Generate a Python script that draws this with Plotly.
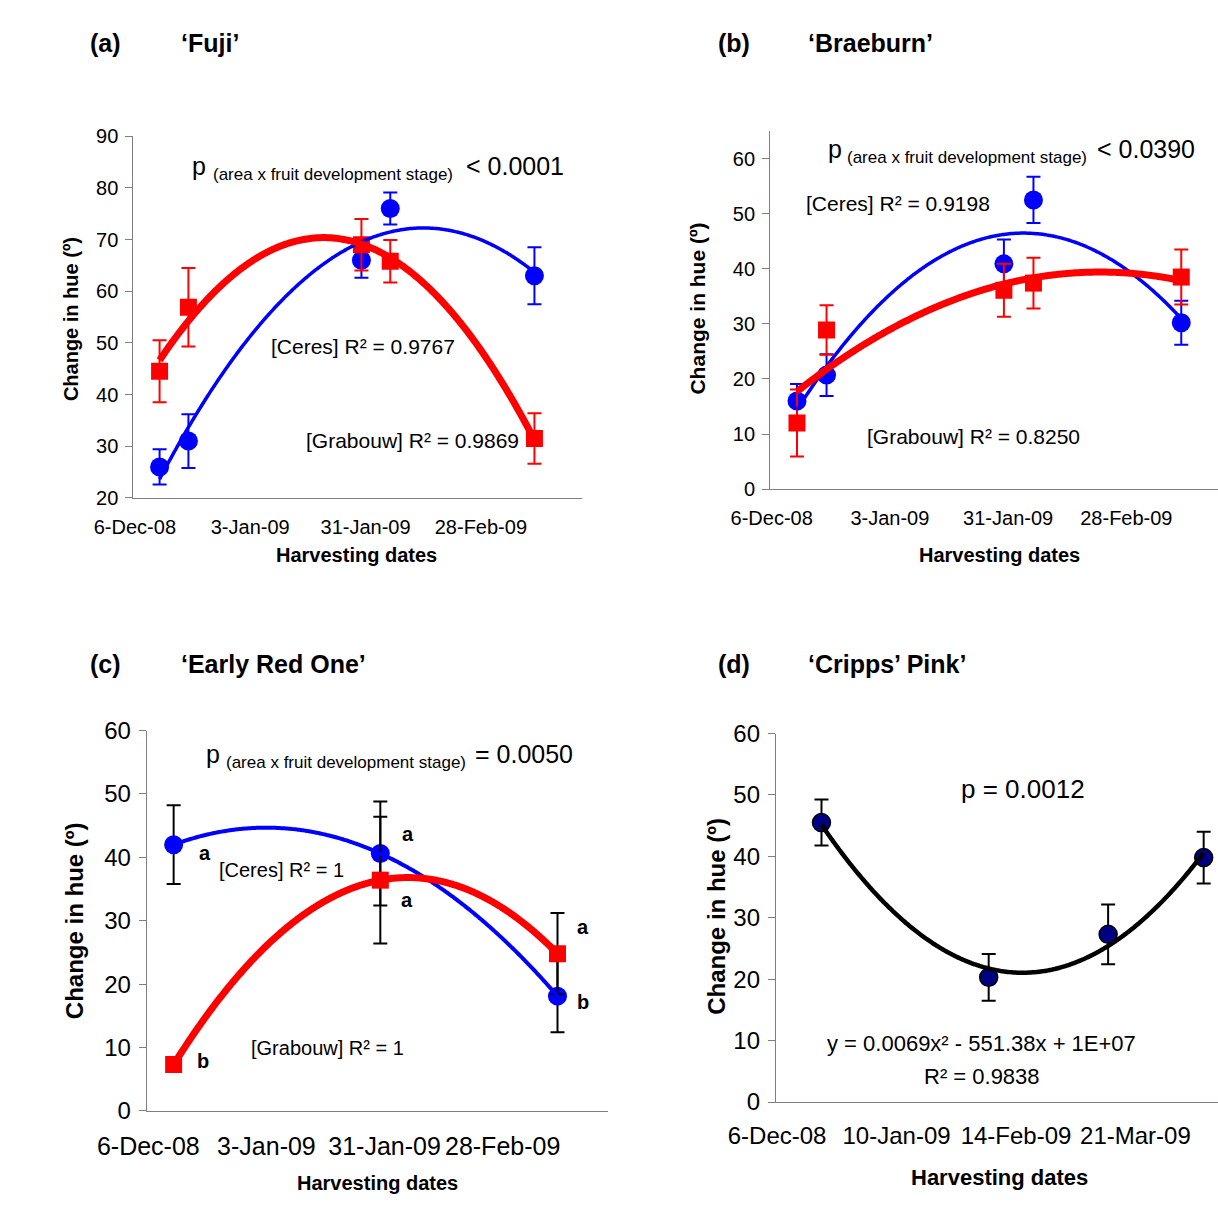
import numpy as np
import pandas as pd
import plotly.graph_objects as go

W, H = 1218, 1205
FONT = "Liberation Sans, Arial, sans-serif"
START = pd.Timestamp("2008-12-06")

# ---------------- data ----------------
# (a) 'Fuji'
fuji_dates = ["2008-12-12", "2008-12-19", "2009-01-30", "2009-02-06", "2009-03-13"]
fuji_ceres = [26.0, 31.0, 66.0, 76.0, 63.0]
fuji_ceres_err = [3.4, 5.2, 3.4, 3.1, 5.5]
fuji_grabouw = [44.5, 56.9, 69.0, 65.8, 31.5]
fuji_grabouw_err = [6.0, 7.6, 5.0, 4.1, 4.9]

# (b) 'Braeburn'
brae_dates = ["2008-12-12", "2008-12-19", "2009-01-30", "2009-02-06", "2009-03-13"]
brae_ceres = [16.0, 20.7, 40.9, 52.5, 30.2]
brae_ceres_err = [3.1, 3.8, 4.4, 4.2, 4.0]
brae_grabouw = [12.0, 28.9, 36.1, 37.4, 38.5]
brae_grabouw_err = [6.1, 4.5, 4.8, 4.6, 5.0]

# (c) 'Early Red One'
ero_dates = ["2008-12-12", "2009-01-30", "2009-03-13"]
ero_ceres = [42.0, 40.6, 18.1]
ero_ceres_err = [6.2, 8.2, 5.7]
ero_grabouw = [7.3, 36.4, 24.8]
ero_grabouw_err = [1.0, 10.0, 6.4]
ero_ceres_letters = ["a", "a", "b"]
ero_grabouw_letters = ["b", "a", "a"]

# (d) 'Cripps' Pink'
cp_dates = ["2008-12-19", "2009-02-06", "2009-03-13", "2009-04-10"]
cp_values = [45.5, 20.3, 27.3, 39.8]
cp_err = [3.75, 3.8, 4.85, 4.2]

tick_dates_abc = ["2008-12-06", "2009-01-03", "2009-01-31", "2009-02-28"]
tick_text_abc = ["6-Dec-08", "3-Jan-09", "31-Jan-09", "28-Feb-09"]
tick_dates_d = ["2008-12-06", "2009-01-10", "2009-02-14", "2009-03-21"]
tick_text_d = ["6-Dec-08", "10-Jan-09", "14-Feb-09", "21-Mar-09"]

BLUE = "#0000FF"
RED = "#FF0000"
NAVY = "#000080"
AXIS = "#7f7f7f"


def px(x):
    return x / W


def py(y):
    return 1 - y / H


def days(dates):
    return np.array([(pd.Timestamp(d) - START).days for d in dates], dtype=float)


def to_date(d):
    return [(START + pd.Timedelta(days=float(v))).strftime("%Y-%m-%d %H:%M:%S") for v in np.atleast_1d(d)]


def trend(dates, vals):
    d = days(dates)
    c = np.polyfit(d, vals, 2)
    xs = np.linspace(d.min(), d.max(), 200)
    return to_date(xs), np.polyval(c, xs)


fig = go.Figure()


def add_series(dates, vals, err, color, symbol, size, xa, ya, errcolor, line_color=None):
    fig.add_trace(go.Scatter(
        x=dates, y=vals, mode="markers", xaxis=xa, yaxis=ya,
        marker=dict(symbol=symbol, size=size, color=color,
                    line=dict(color=line_color or color, width=1.5 if line_color else 0)),
        error_y=dict(type="data", array=err, visible=True, color=errcolor,
                     thickness=2, width=7),
        showlegend=False, hoverinfo="skip"))


def add_trend(dates, vals, color, width, xa, ya):
    tx, ty = trend(dates, vals)
    fig.add_trace(go.Scatter(x=tx, y=ty, mode="lines", xaxis=xa, yaxis=ya,
                             line=dict(color=color, width=width, shape="spline"),
                             showlegend=False, hoverinfo="skip"))


# (a)
add_series(fuji_dates, fuji_ceres, fuji_ceres_err, BLUE, "circle", 19, "x", "y", BLUE)
add_series(fuji_dates, fuji_grabouw, fuji_grabouw_err, RED, "square", 17, "x", "y", RED)
add_trend(fuji_dates, fuji_ceres, BLUE, 3.5, "x", "y")
add_trend(fuji_dates, fuji_grabouw, RED, 7, "x", "y")
# (b)
add_series(brae_dates, brae_ceres, brae_ceres_err, BLUE, "circle", 19, "x2", "y2", BLUE)
add_series(brae_dates, brae_grabouw, brae_grabouw_err, RED, "square", 17, "x2", "y2", RED)
add_trend(brae_dates, brae_ceres, BLUE, 3.5, "x2", "y2")
add_trend(brae_dates, brae_grabouw, RED, 7, "x2", "y2")
# (c)
add_series(ero_dates, ero_ceres, ero_ceres_err, BLUE, "circle", 19, "x3", "y3", "black")
add_series(ero_dates, ero_grabouw, ero_grabouw_err, RED, "square", 17, "x3", "y3", "black")
add_trend(ero_dates, ero_ceres, BLUE, 4, "x3", "y3")
add_trend(ero_dates, ero_grabouw, RED, 7, "x3", "y3")
# (d)
add_series(cp_dates, cp_values, cp_err, NAVY, "circle", 18, "x4", "y4", "black", line_color="black")
add_trend(cp_dates, cp_values, "black", 4.5, "x4", "y4")


def xaxis(dom, rng, tv, tt, fs, tlen, anchor):
    return dict(domain=dom, range=to_date(rng), type="date", tickvals=tv, ticktext=tt,
                tickfont=dict(size=fs, color="black", family=FONT), ticks="outside",
                ticklen=tlen, tickcolor="rgba(0,0,0,0)", showline=True, linecolor=AXIS,
                linewidth=1.2, showgrid=False, zeroline=False, anchor=anchor, fixedrange=True)


def yaxis(dom, rng, fs, anchor):
    return dict(domain=dom, range=rng, dtick=10, tick0=0, tickfont=dict(size=fs, color="black", family=FONT),
                ticks="outside", ticklen=7, tickcolor=AXIS, tickwidth=1.2, showline=True,
                linecolor=AXIS, linewidth=1.2, showgrid=False, zeroline=False, anchor=anchor,
                ticklabelstandoff=3, fixedrange=True)


layout = dict(
    width=W, height=H, margin=dict(l=0, r=0, t=0, b=0),
    paper_bgcolor="white", plot_bgcolor="white", showlegend=False,
    font=dict(family=FONT, color="black"),
    xaxis=xaxis([px(87), px(555)], [-0.35, 108.6], tick_dates_abc, tick_text_abc, 20, 11, "y"),
    yaxis=yaxis([py(495), py(125)], [20, 90], 20, "x"),
    xaxis2=xaxis([px(751), 1.0], [-0.35, 105.7], tick_dates_abc, tick_text_abc, 20, 11, "y2"),
    yaxis2=yaxis([py(486), py(119.8)], [0, 65], 20, "x2"),
    xaxis3=xaxis([px(101), px(582)], [-0.35, 109.0], tick_dates_abc, tick_text_abc, 25, 13, "y3"),
    yaxis3=yaxis([py(1122), py(733)], [0, 60], 24, "x3"),
    xaxis4=xaxis([px(757), 1.0], [-0.35, 129.2], tick_dates_d, tick_text_d, 24, 12, "y4"),
    yaxis4=yaxis([py(1113), py(736)], [0, 60], 24, "x4"),
)
fig.update_layout(**layout)

ann = []


def text(x, y, s, size, bold=False, xanchor="left", angle=0):
    if bold:
        s = "<b>" + s + "</b>"
    ann.append(dict(x=px(x), y=py(y), xref="paper", yref="paper", text=s, showarrow=False,
                    xanchor=xanchor, yanchor="middle", textangle=angle,
                    font=dict(size=size, family=FONT, color="black")))


SUBTXT = "(area x fruit development stage)"


def p_line(xp, xs, xr, y, subsize, rest):
    text(xp, y, "p", 25)
    text(xs, y + 9, SUBTXT, subsize)
    text(xr, y, rest, 25)


# (a)
text(40, 30, "(a)", 25, True)
text(135, 30, "‘Fuji’", 25, True)
p_line(146, 168, 432, 155, 17, "&lt; 0.0001")
text(228, 340, "[Ceres] R² = 0.9767", 21)
text(265, 436, "[Grabouw] R² = 0.9869", 21)
text(22, 312, "Change in hue (º)", 20, True, "center", -90)
text(320, 553, "Harvesting dates", 20, True, "center")
# (b)
text(695, 30, "(b)", 25, True)
text(788, 30, "‘Braeburn’", 25, True)
p_line(809, 829, 1090, 138, 17, "&lt; 0.0390")
text(786, 194, "[Ceres] R² = 0.9198", 21)
text(850, 432, "[Grabouw] R² = 0.8250", 21)
text(675, 301, "Change in hue (º)", 21, True, "center", -90)
text(990, 553, "Harvesting dates", 20, True, "center")
# (c)
text(40, 665, "(c)", 25, True)
text(135, 665, "‘Early Red One’", 25, True)
p_line(161, 181, 441, 757, 17, "= 0.0050")
text(174, 876, "[Ceres] R² = 1", 20)
text(208, 1058, "[Grabouw] R² = 1", 20)
text(25, 927, "Change in hue (º)", 24, True, "center", -90)
text(342, 1196, "Harvesting dates", 20, True, "center")
letter_pos_c = [(153, 858), (365, 839), (547, 1011)]
letter_pos_g = [(151, 1071), (364, 906), (547, 934)]
for (lx, ly), s in zip(letter_pos_c, ero_ceres_letters):
    text(lx, ly, s, 20, True)
for (lx, ly), s in zip(letter_pos_g, ero_grabouw_letters):
    text(lx, ly, s, 20, True)
# (d)
text(695, 665, "(d)", 25, True)
text(788, 665, "‘Cripps’ Pink’", 25, True)
text(948, 793, "p = 0.0012", 26)
text(971, 1053, "y = 0.0069x² - 551.38x + 1E+07", 22, False, "center")
text(972, 1087, "R² = 0.9838", 22, False, "center")
text(695, 923, "Change in hue (º)", 24, True, "center", -90)
text(990, 1190, "Harvesting dates", 22, True, "center")

fig.update_layout(annotations=ann)
fig.write_html("out.html")
